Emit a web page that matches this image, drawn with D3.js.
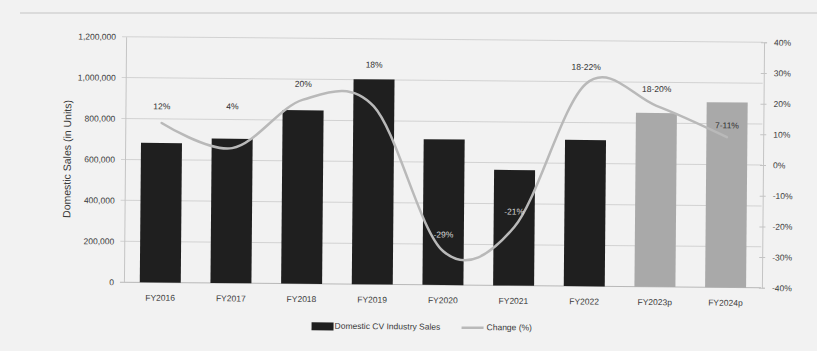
<!DOCTYPE html>
<html>
<head>
<meta charset="utf-8">
<script src="https://cdn.jsdelivr.net/npm/d3@7"></script>
<style>
  html, body { margin: 0; padding: 0; background: #f2f2f2; }
  svg { display: block; font-family: "Liberation Sans", Arial, sans-serif; }
</style>
</head>
<body>
<svg id="chart" width="817" height="351"></svg>
<script>
// Fiscal years shown on the x axis
const years = ["FY2016", "FY2017", "FY2018", "FY2019", "FY2020", "FY2021", "FY2022", "FY2023p", "FY2024p"];
// Domestic commercial-vehicle industry sales (units)
const sales = [682000, 706000, 848000, 1002000, 712000, 565000, 715000, 850000, 905000];
// Whether the year is a projection (lighter bar)
const projected = [false, false, false, false, false, false, false, true, true];
// Year-on-year change (%)
const change = [12, 4, 20, 18, -29, -21, 26, 19, 9];
// Text printed next to each change point
const changeLabels = ["12%", "4%", "20%", "18%", "-29%", "-21%", "18-22%", "18-20%", "7-11%"];
// Axis ticks
const salesTicks = [0, 200000, 400000, 600000, 800000, 1000000, 1200000];
const changeTicks = [-40, -30, -20, -10, 0, 10, 20, 30, 40];

const svg = d3.select("#chart");

// faint rule across the top of the page
svg.append("line")
  .attr("x1", 20).attr("x2", 817).attr("y1", 13).attr("y2", 13)
  .attr("stroke", "#c4c4c4").attr("stroke-width", 1.2);

// the printed chart sits very slightly tilted on the page
const g = svg.append("g").attr("transform", "rotate(0.5, 444, 162)");

const plotLeft = 126, plotRight = 762, plotTop = 39.5, plotBottom = 285;

const x = d3.scaleBand().domain(years).range([plotLeft, plotRight]).paddingInner(0.42).paddingOuter(0.21);
const y = d3.scaleLinear().domain([0, 1200000]).range([plotBottom, plotTop]);
const y2 = d3.scaleLinear().domain([-40, 40]).range([plotBottom, plotTop]);

// horizontal gridlines
g.append("g").selectAll("line").data(salesTicks).join("line")
  .attr("x1", plotLeft - 5).attr("x2", plotRight)
  .attr("y1", d => y(d)).attr("y2", d => y(d))
  .attr("stroke", d => d === 0 ? "#b8b8b8" : "#d2d2d2").attr("stroke-width", 1);

// left axis
const yAxis = d3.axisLeft(y).tickValues(salesTicks).tickSize(0).tickPadding(10)
  .tickFormat(d3.format(","));
const ya = g.append("g").attr("transform", `translate(${plotLeft - 1},0)`).call(yAxis);
ya.select(".domain").attr("stroke", "#c4c4c4");
ya.selectAll("text").attr("font-size", 8.5).attr("fill", "#3a3a3a");

// right axis
const y2Axis = d3.axisRight(y2).tickValues(changeTicks).tickSize(3).tickPadding(7)
  .tickFormat(d => d + "%");
const y2a = g.append("g").attr("transform", `translate(${plotRight + 1},0)`).call(y2Axis);
y2a.select(".domain").attr("stroke", "#c4c4c4");
y2a.selectAll(".tick line").attr("stroke", "#c4c4c4").attr("x1", -3);
y2a.selectAll("text").attr("font-size", 8.5).attr("fill", "#3a3a3a");

// left axis title
g.append("text")
  .attr("transform", `translate(68, ${(plotTop + plotBottom) / 2}) rotate(-90)`)
  .attr("text-anchor", "middle").attr("dominant-baseline", "middle")
  .attr("font-size", 10.5).attr("fill", "#3a3a3a")
  .text("Domestic Sales (in Units)");

// bars
g.append("g").selectAll("rect").data(years).join("rect")
  .attr("x", d => x(d))
  .attr("width", x.bandwidth())
  .attr("y", (d, i) => y(sales[i]))
  .attr("height", (d, i) => y(0) - y(sales[i]))
  .attr("fill", (d, i) => projected[i] ? "#a9a9a9" : "#1f1f1f");

// x axis labels
g.append("g").selectAll("text").data(years).join("text")
  .attr("x", d => x(d) + x.bandwidth() / 2)
  .attr("y", plotBottom + 16)
  .attr("text-anchor", "middle").attr("dominant-baseline", "middle")
  .attr("font-size", 8.5).attr("fill", "#3a3a3a")
  .text(d => d);

// smoothed change line
const pts = years.map((d, i) => [x(d) + x.bandwidth() / 2, y2(change[i])]);
g.append("path")
  .attr("d", d3.line().curve(d3.curveCatmullRom.alpha(0))(pts))
  .attr("fill", "none").attr("stroke", "#b9b9b9").attr("stroke-width", 2.5)
  .attr("stroke-linecap", "round");

// labels sit above their points; two are nudged higher to clear the bars
const labelLift = [16, 41, 15, 41, 16, 15, 16, 16, 11];
g.append("g").selectAll("text").data(changeLabels).join("text")
  .attr("x", (d, i) => pts[i][0])
  .attr("y", (d, i) => pts[i][1] - labelLift[i])
  .attr("text-anchor", "middle").attr("dominant-baseline", "middle")
  .attr("font-size", 8.5).attr("fill", (d, i) => (i === 4 || i === 5) ? "#d8d8d8" : "#2e2e2e")
  .text(d => d);

// legend
const lg = g.append("g").attr("transform", "translate(0, 327.5)");
lg.append("rect").attr("x", 313).attr("y", -4).attr("width", 22).attr("height", 8).attr("fill", "#1f1f1f");
lg.append("text").attr("x", 336).attr("y", 0).attr("dominant-baseline", "middle")
  .attr("font-size", 8.5).attr("fill", "#3a3a3a").text("Domestic CV Industry Sales");
lg.append("line").attr("x1", 463).attr("x2", 485).attr("y1", 0).attr("y2", 0)
  .attr("stroke", "#b9b9b9").attr("stroke-width", 2.5);
lg.append("text").attr("x", 488).attr("y", 0).attr("dominant-baseline", "middle")
  .attr("font-size", 8.5).attr("fill", "#3a3a3a").text("Change (%)");
</script>
</body>
</html>
